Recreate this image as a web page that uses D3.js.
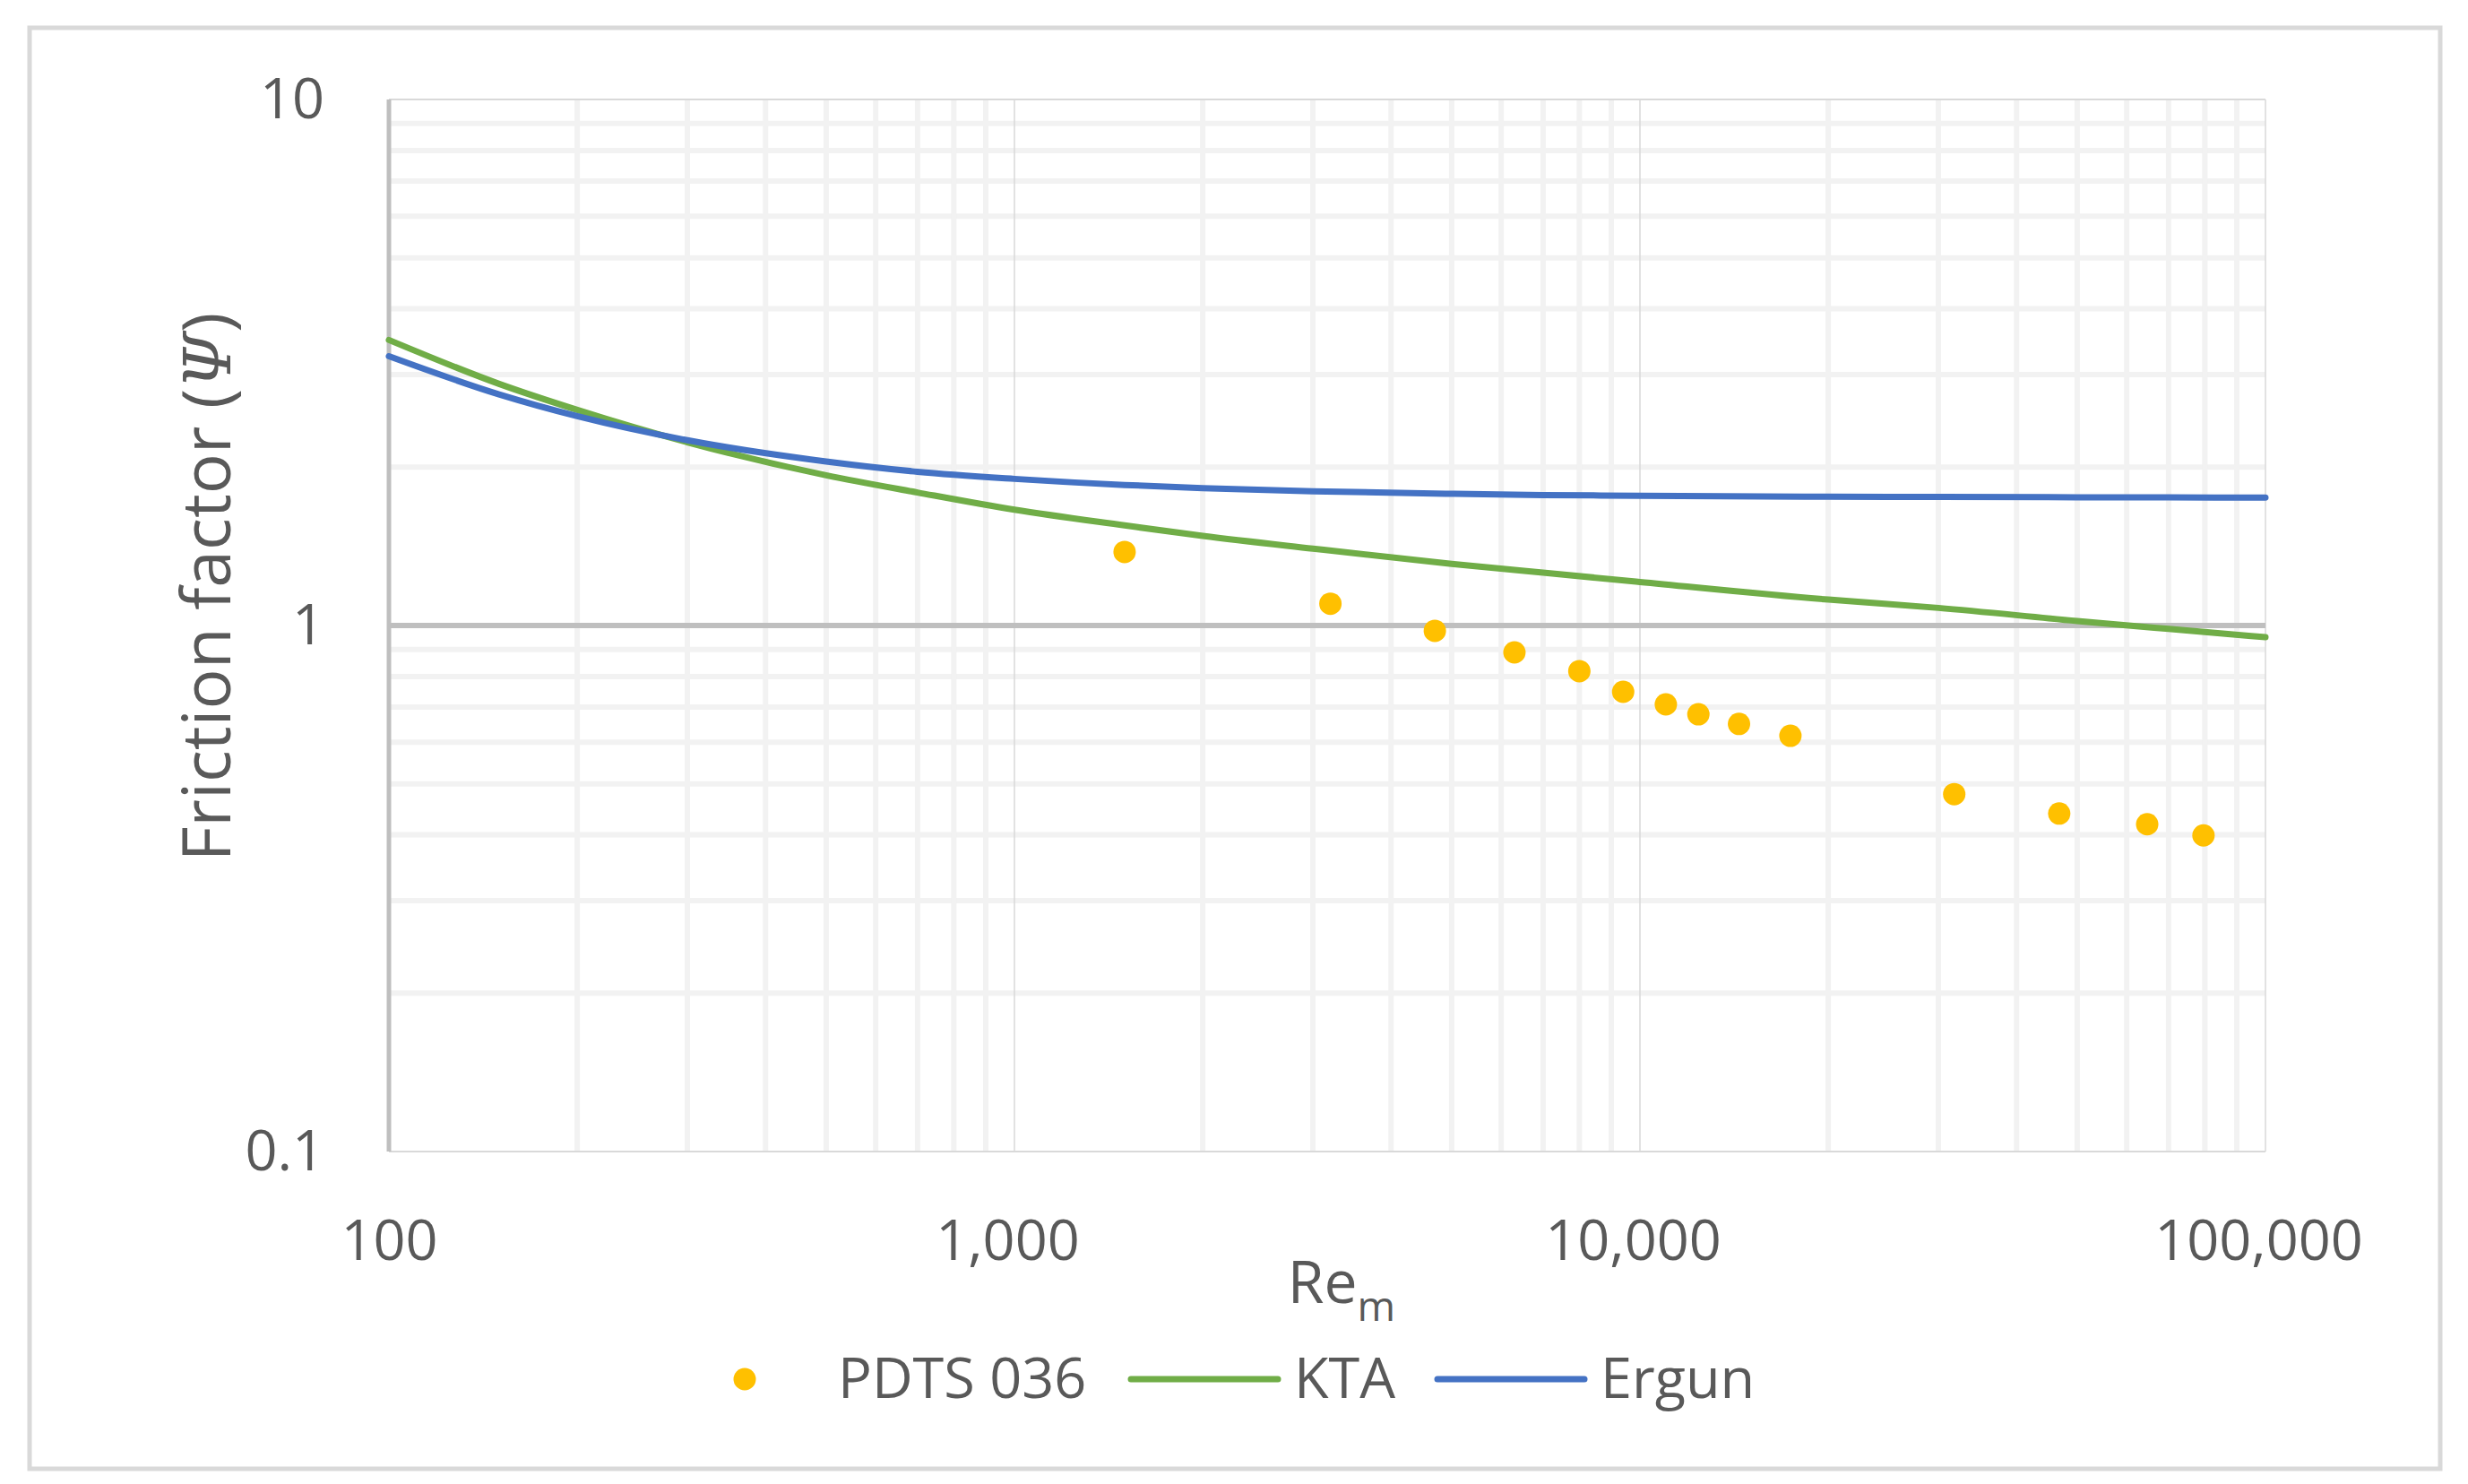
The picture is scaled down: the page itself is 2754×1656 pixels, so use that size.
<!DOCTYPE html>
<html>
<head>
<meta charset="utf-8">
<script src="https://cdn.jsdelivr.net/npm/d3@7"></script>
<style>
  html, body { margin: 0; padding: 0; background: #fff; }
  svg { display: block; }
  text { font-family: "Open Sans", sans-serif; fill: #595959; }
</style>
</head>
<body>
<div id="chart"></div>
<script>
// measured points (PDTS 036)
var pdtsRe = [1500, 3200, 4700, 6300, 8000, 9400, 11000, 12400, 14400, 17400, 31800, 46800, 64700, 79600];
var pdtsPsi = [1.38, 1.10, 0.977, 0.889, 0.819, 0.748, 0.708, 0.678, 0.650, 0.617, 0.478, 0.439, 0.419, 0.399];

var curveRe = [100, 150, 200, 300, 500, 700, 1000, 1500, 2000, 3000, 5000, 7000, 10000, 20000, 30000, 50000, 70000, 100000];
var ktaPsi = [3.49, 2.88, 2.57, 2.23, 1.93, 1.79, 1.66, 1.55, 1.48, 1.40, 1.31, 1.26, 1.21, 1.12, 1.08, 1.02, 0.985, 0.95];
var ergunPsi = [3.25, 2.75, 2.50, 2.25, 2.05, 1.96, 1.90, 1.85, 1.825, 1.80, 1.78, 1.77, 1.765, 1.757, 1.755, 1.753, 1.752, 1.75];

var xTicks = [100, 1000, 10000, 100000];
var yTicks = [0.1, 1, 10];
var legendNames = ['PDTS 036', 'KTA', 'Ergun'];

var W = 2754, H = 1656,
	plot = { left: 434, right: 2528, top: 111, bottom: 1285 },
	colors = { pdts: '#FFC000', kta: '#70AD47', ergun: '#4472C4' };

var svg = d3.select('#chart').append('svg')
	.attr('width', W)
	.attr('height', H);

svg.append('rect')
	.attr('x', 33).attr('y', 31)
	.attr('width', 2690).attr('height', 1608)
	.attr('fill', '#fff')
	.attr('stroke', '#D9D9D9')
	.attr('stroke-width', 5);

var x = d3.scaleLog().domain([100, 100000]).range([plot.left, plot.right]);
var y = d3.scaleLog().domain([0.1, 10]).range([plot.bottom, plot.top]);

// minor values 2..9 in every decade
function minors(domain) {
	var out = [];
	for (var d = domain[0]; d < domain[1]; d *= 10) {
		for (var k = 2; k <= 9; k++) out.push(d * k);
	}
	return out;
}

var grid = svg.append('g');

grid.selectAll('line.hminor')
	.data(minors(y.domain()))
	.enter().append('line')
	.attr('x1', plot.left).attr('x2', plot.right)
	.attr('y1', function(d) { return y(d); })
	.attr('y2', function(d) { return y(d); })
	.attr('stroke', '#F2F2F2')
	.attr('stroke-width', 6);

grid.selectAll('line.vminor')
	.data(minors(x.domain()))
	.enter().append('line')
	.attr('y1', plot.top).attr('y2', plot.bottom)
	.attr('x1', function(d) { return x(d); })
	.attr('x2', function(d) { return x(d); })
	.attr('stroke', '#F2F2F2')
	.attr('stroke-width', 6);

grid.selectAll('line.hmajor')
	.data(yTicks)
	.enter().append('line')
	.attr('x1', plot.left).attr('x2', plot.right)
	.attr('y1', function(d) { return y(d); })
	.attr('y2', function(d) { return y(d); })
	.attr('stroke', '#D9D9D9')
	.attr('stroke-width', 2);

grid.selectAll('line.vmajor')
	.data(xTicks)
	.enter().append('line')
	.attr('y1', plot.top).attr('y2', plot.bottom)
	.attr('x1', function(d) { return x(d); })
	.attr('x2', function(d) { return x(d); })
	.attr('stroke', '#D9D9D9')
	.attr('stroke-width', 1.5);

// axis lines: horizontal axis crosses at 1, vertical at 100
svg.append('line')
	.attr('x1', plot.left).attr('x2', plot.right)
	.attr('y1', y(1)).attr('y2', y(1))
	.attr('stroke', '#BFBFBF')
	.attr('stroke-width', 6);

svg.append('line')
	.attr('x1', x(100)).attr('x2', x(100))
	.attr('y1', plot.top).attr('y2', plot.bottom)
	.attr('stroke', '#BFBFBF')
	.attr('stroke-width', 5);

// tick labels
var yAxis = svg.append('g')
	.attr('transform', 'translate(' + plot.left + ',0)')
	.call(d3.axisLeft(y).tickValues(yTicks).tickSize(0).tickPadding(72)
		.tickFormat(function(d) { return d < 1 ? '0.1' : String(d); }));

var xAxis = svg.append('g')
	.attr('transform', 'translate(0,' + plot.bottom + ')')
	.call(d3.axisBottom(x).tickValues(xTicks).tickSize(0).tickPadding(76)
		.tickFormat(d3.format(',')));

[xAxis, yAxis].forEach(function(a) {
	a.select('.domain').remove();
	a.selectAll('text')
		.attr('font-family', '"Open Sans", sans-serif')
		.attr('font-size', 63)
		.attr('fill', '#595959');
});

// labels with a comma sit a touch left of their tick
xAxis.selectAll('text')
	.attr('dx', function(d) { return d >= 1000 ? -8 : 0; });

// series
var line = d3.line()
	.x(function(d) { return x(d[0]); })
	.y(function(d) { return y(d[1]); })
	.curve(d3.curveMonotoneX);

svg.append('path')
	.datum(d3.zip(curveRe, ktaPsi))
	.attr('d', line)
	.attr('fill', 'none')
	.attr('stroke', colors.kta)
	.attr('stroke-width', 7)
	.attr('stroke-linecap', 'round')
	.attr('stroke-linejoin', 'round');

svg.append('path')
	.datum(d3.zip(curveRe, ergunPsi))
	.attr('d', line)
	.attr('fill', 'none')
	.attr('stroke', colors.ergun)
	.attr('stroke-width', 7)
	.attr('stroke-linecap', 'round')
	.attr('stroke-linejoin', 'round');

svg.append('g').selectAll('circle')
	.data(d3.zip(pdtsRe, pdtsPsi))
	.enter().append('circle')
	.attr('cx', function(d) { return x(d[0]); })
	.attr('cy', function(d) { return y(d[1]); })
	.attr('r', 12.5)
	.attr('fill', colors.pdts);

// axis titles
svg.append('text')
	.attr('transform', 'translate(257,655) rotate(-90)')
	.attr('text-anchor', 'middle')
	.attr('font-size', 75)
	.call(function(t) {
		t.append('tspan').text('Friction factor (');
		t.append('tspan')
			.attr('font-family', '"DejaVu Serif", "Liberation Serif", serif')
			.attr('font-style', 'italic')
			.attr('font-size', 72)
			.text('Ψ');
		t.append('tspan').text(')');
	});

svg.append('text')
	.attr('x', 1497).attr('y', 1454)
	.attr('text-anchor', 'middle')
	.attr('font-size', 66)
	.call(function(t) {
		t.append('tspan').text('Re');
		t.append('tspan')
			.attr('font-size', 46)
			.attr('dy', 20)
			.text('m');
	});

// legend
var legendY = 1539;
var legend = svg.append('g');

legend.append('circle')
	.attr('cx', 831).attr('cy', legendY)
	.attr('r', 12.5)
	.attr('fill', colors.pdts);

legend.append('line')
	.attr('x1', 1262).attr('x2', 1426)
	.attr('y1', legendY).attr('y2', legendY)
	.attr('stroke', colors.kta)
	.attr('stroke-width', 7)
	.attr('stroke-linecap', 'round');

legend.append('line')
	.attr('x1', 1604).attr('x2', 1768)
	.attr('y1', legendY).attr('y2', legendY)
	.attr('stroke', colors.ergun)
	.attr('stroke-width', 7)
	.attr('stroke-linecap', 'round');

legend.selectAll('text')
	.data(legendNames)
	.enter().append('text')
	.attr('x', function(d, i) { return [935, 1444, 1786][i]; })
	.attr('y', legendY + 21)
	.attr('font-size', 63)
	.text(function(d) { return d; });
</script>
</body>
</html>
